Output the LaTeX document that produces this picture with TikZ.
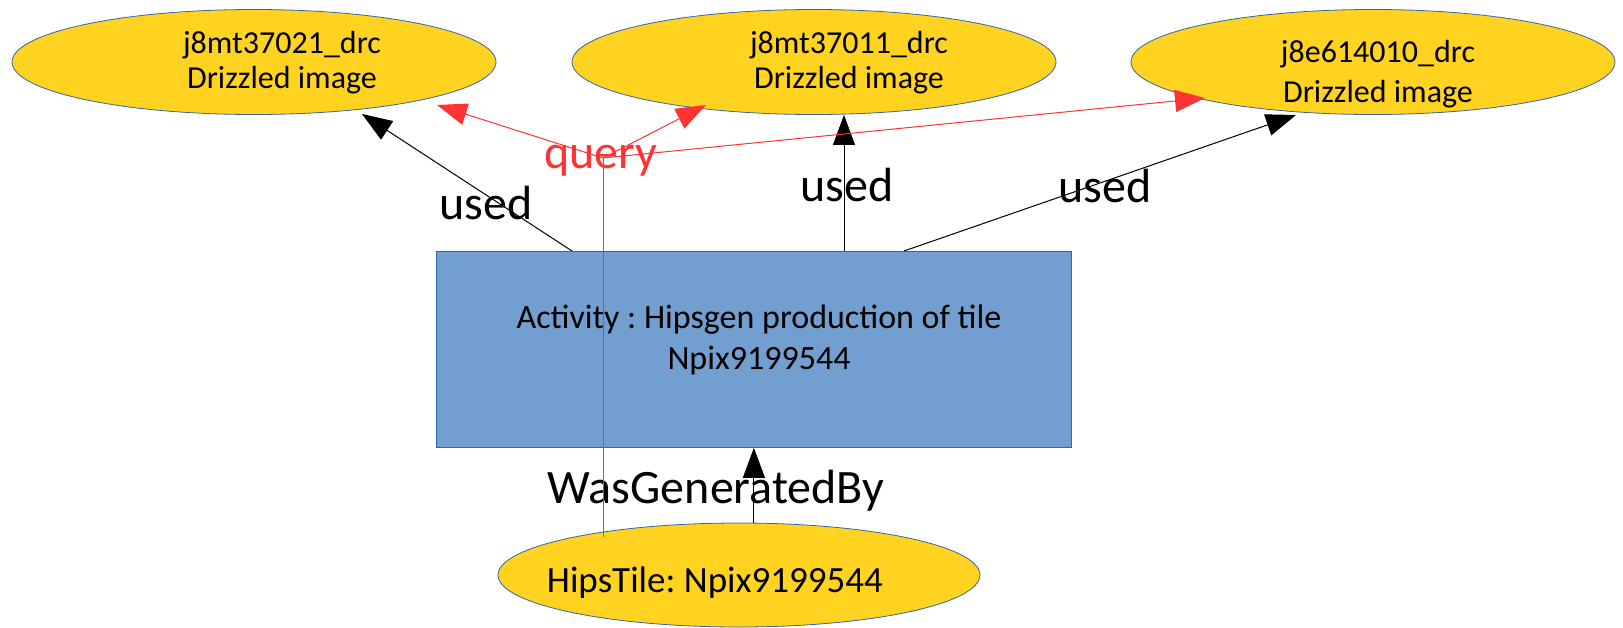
\documentclass[tikz,border=0pt]{standalone}
\usepackage{fontspec}
\setmainfont{Carlito}
\usetikzlibrary{positioning, calc, arrows.meta, shapes.geometric}
\definecolor{tilegold}{HTML}{FFD320}
\definecolor{edgeblue}{HTML}{3465A4}
\definecolor{actblue}{HTML}{729FCF}
\definecolor{queryred}{HTML}{FF3333}
\frenchspacing

\begin{document}
\begin{tikzpicture}[x=1pt, y=-1pt, line width=1pt,
	entity/.style={ellipse, draw=edgeblue, fill=tilegold, line width=0.8pt, minimum width=484pt, minimum height=105pt, inner sep=0pt},
	txt/.style={align=center, inner sep=0pt, font=\fontsize{32}{35}\selectfont},
	rel/.style={inner sep=0pt, font=\fontsize{48}{50}\selectfont},
	arr/.style={-{Triangle[length=30pt, width=22pt]}},
	qarr/.style={queryred, arr}]
\useasboundingbox (0,0) rectangle (1623,627);
\foreach \n/\x/\dx/\dy/\ls/\id in {e1/254/28/0.5/35/j8mt37021, e2/814/35/0.5/35/j8mt37011, e3/1373/5/12/40/j8e614010} {
	\node[entity] (\n) at (\x,62) {};
	\node[txt, font=\fontsize{32}{\ls}\selectfont] at ($(\n)+(\dx,\dy)$) {\id\_drc\\Drizzled image};
}
\node[draw=edgeblue, fill=actblue, line width=0.8pt, minimum width=635pt, minimum height=196pt, anchor=north west] (act) at (436,251) {};
\node[txt, font=\fontsize{34}{41}\selectfont] at (759,340) {Activity : Hipsgen production of tile\\Npix9199544};
\node[entity, minimum width=482pt, minimum height=104pt] (tile) at (739,575) {};
\node[txt, font=\fontsize{37}{40}\selectfont] at (715,583) {HipsTile: Npix9199544};

\node[rel] at (486,203) {used};
\node[rel] at (847,185) {used};
\node[rel] at (1105,186) {used};
\node[rel] at (716,491) {WasGeneratedBy};
\node[rel, text=queryred] at (601,161) {query};

\draw[arr] ($(act.north west)+(136,0)$) -- ($(e1)+(108,52)$);
\draw[arr] ($(act.north west)+(408,0)$) -- ($(e2.south)+(30,0)$);
\draw[arr] ($(act.north west)+(468,0)$) -- ($(e3)+(-77,53)$);
\draw[arr] (act.south |- tile.north) -- (act.south);
\coordinate (hub) at (603,158);
\draw[queryred] ($(tile)+(-136,-38)$) -- (hub);
\draw[qarr] (hub) -- ($(e1)+(183,43)$);
\draw[qarr] (hub) -- ($(e2)+(-108,43)$);
\draw[qarr] (hub) -- ($(e3)+(-168,36)$);
\end{tikzpicture}
\end{document}
